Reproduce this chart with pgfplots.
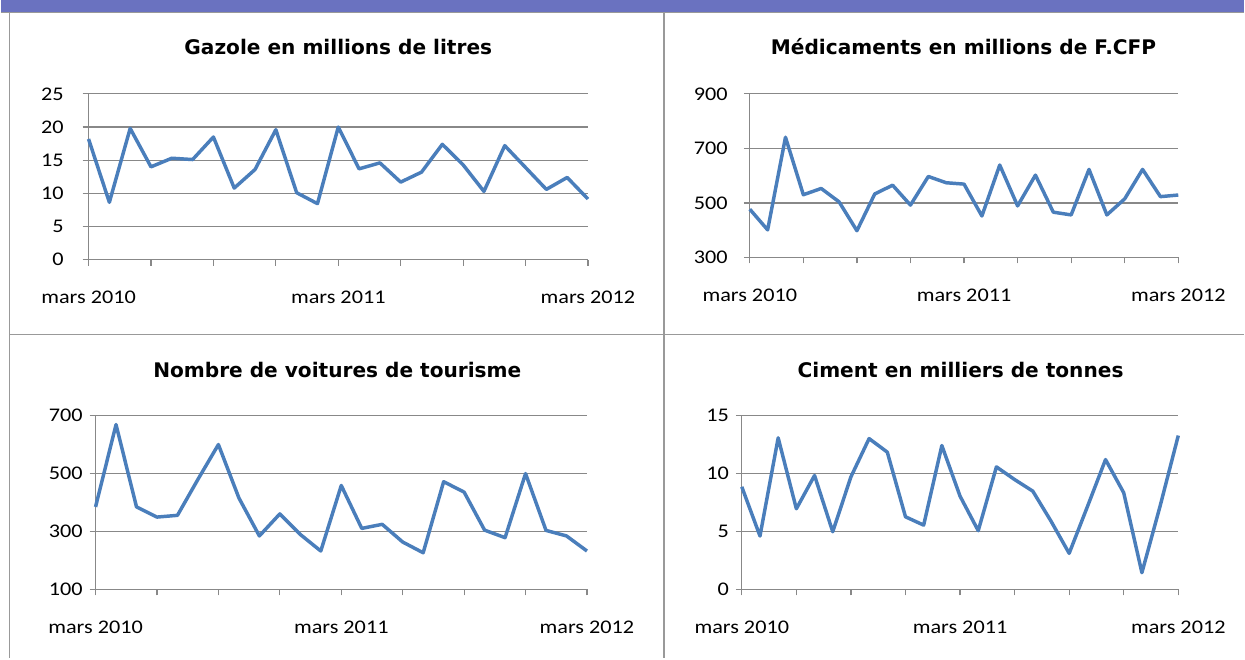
\documentclass[border=0pt]{standalone}
\usepackage{fontspec}
\setmainfont{Carlito}[FakeStretch=1.15]
\newfontfamily\titlefont{DejaVu Sans}
\usepackage{pgfplots}
\pgfplotsset{compat=1.18}
\definecolor{barblue}{HTML}{6A72C0}
\definecolor{bordergray}{HTML}{999999}
\definecolor{gridgray}{HTML}{888888}
\definecolor{lineblue}{HTML}{4A7EBB}
\pgfplotsset{
  panel/.style={
    scale only axis, anchor=south west,
    axis x line*=bottom, axis y line*=left,
    axis line style={-, gridgray, line width=0.9pt},
    ymajorgrids, major grid style={gridgray, line width=0.9pt},
    xmin=0, xmax=24,
    xtick={0,3,...,24},
    xticklabels={mars 2010,,,,mars 2011,,,,mars 2012},
    tick align=outside, major tick length=4.5pt,
    tick style={gridgray, line width=0.9pt},
    /pgf/number format/assume math mode=true,
    tick label style={font=\fontsize{14.5}{17}\selectfont, text=black},
    xticklabel style={anchor=north, inner sep=0pt, yshift=-19pt},
    clip=false,
  },
  series/.style={lineblue, line width=2.6pt, line join=round, mark=none},
}
\begin{document}
\begin{tikzpicture}
\fill[white] (0,0) rectangle (933.75pt,-494.25pt);
\fill[barblue] (0,0) rectangle (933.75pt,-9pt);
\draw[bordergray, line width=1pt] (0,-9.5pt) -- (933.75pt,-9.5pt);
\draw[bordergray, line width=1.2pt] (6.75pt,-9pt) -- (6.75pt,-494.25pt);
\draw[bordergray, line width=1.2pt] (498pt,-9pt) -- (498pt,-494.25pt);
\draw[bordergray, line width=1.2pt] (6.75pt,-251.25pt) -- (933.75pt,-251.25pt);

\node[font=\titlefont\bfseries\fontsize{15.1}{18}\selectfont] at (253.5pt,-35.25pt) {Gazole en millions de litres};
\node[font=\titlefont\bfseries\fontsize{15.1}{18}\selectfont] at (723pt,-35.25pt) {Médicaments en millions de F.CFP};
\node[font=\titlefont\bfseries\fontsize{15.1}{18}\selectfont] at (252.75pt,-277.5pt) {Nombre de voitures de tourisme};
\node[font=\titlefont\bfseries\fontsize{15.1}{18}\selectfont] at (720.75pt,-277.5pt) {Ciment en milliers de tonnes};

% Gazole
\begin{axis}[panel, at={(66pt,-195pt)}, width=375pt, height=124.5pt,
  ymin=0, ymax=25, ytick={0,5,...,25},
  yticklabel style={anchor=east, inner sep=0pt, xshift=-14pt}]
\addplot[series] coordinates {(0,18.2)(1,8.65)(2,19.8)(3,14.0)(4,15.3)(5,15.1)(6,18.5)(7,10.8)(8,13.6)(9,19.6)(10,10.1)(11,8.45)(12,20.0)(13,13.7)(14,14.6)(15,11.7)(16,13.2)(17,17.4)(18,14.3)(19,10.3)(20,17.2)(21,13.9)(22,10.6)(23,12.4)(24,9.15)};
\end{axis}

% Medicaments
\begin{axis}[panel, at={(562.5pt,-193.3pt)}, width=321.75pt, height=122.8pt,
  ymin=300, ymax=900, ytick={300,500,700,900},
  yticklabel style={anchor=east, inner sep=0pt, xshift=-12pt}]
\addplot[series] coordinates {(0,477)(1,401)(2,741)(3,530)(4,553)(5,504)(6,398)(7,533)(8,565)(9,492)(10,597)(11,574)(12,569)(13,452)(14,639)(15,489)(16,602)(17,466)(18,456)(19,623)(20,456)(21,515)(22,623)(23,523)(24,529)};
\end{axis}

% Voitures
\begin{axis}[panel, at={(71.25pt,-442.5pt)}, width=369pt, height=130.7pt,
  ymin=100, ymax=700, ytick={100,300,500,700},
  yticklabel style={anchor=east, inner sep=0pt, xshift=-5pt}]
\addplot[series] coordinates {(0,384)(1,668)(2,384)(3,349)(4,355)(5,479)(6,599)(7,415)(8,284)(9,360)(10,289)(11,232)(12,458)(13,310)(14,324)(15,263)(16,226)(17,471)(18,435)(19,304)(20,278)(21,499)(22,303)(23,284)(24,232)};
\end{axis}

% Ciment
\begin{axis}[panel, at={(556.5pt,-442.5pt)}, width=327.75pt, height=130.7pt,
  ymin=0, ymax=15, ytick={0,5,10,15},
  yticklabel style={anchor=east, inner sep=0pt, xshift=-5pt}]
\addplot[series] coordinates {(0,8.83)(1,4.59)(2,13.05)(3,6.94)(4,9.81)(5,4.96)(6,9.69)(7,12.99)(8,11.82)(9,6.25)(10,5.53)(11,12.39)(12,8.03)(13,5.05)(14,10.55)(15,9.46)(16,8.46)(17,5.88)(18,3.10)(19,7.11)(20,11.18)(21,8.32)(22,1.43)(23,7.17)(24,13.25)};
\end{axis}
\end{tikzpicture}
\end{document}
